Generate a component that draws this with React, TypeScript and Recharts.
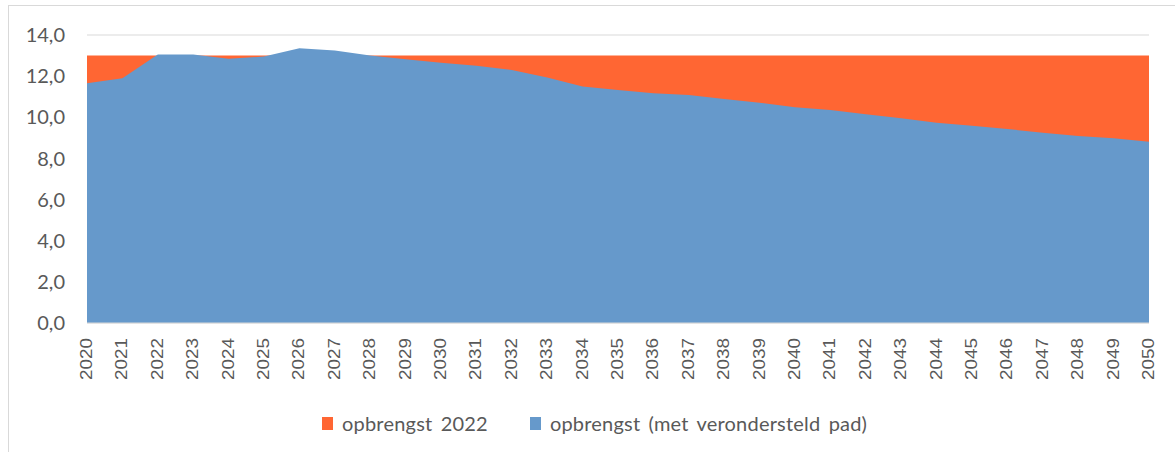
import React from "react";
import { AreaChart, Area, XAxis, YAxis, CartesianGrid, Legend } from "recharts";

const years = [
  "2020", "2021", "2022", "2023", "2024", "2025", "2026", "2027", "2028", "2029", "2030",
  "2031", "2032", "2033", "2034", "2035", "2036", "2037", "2038", "2039", "2040",
  "2041", "2042", "2043", "2044", "2045", "2046", "2047", "2048", "2049", "2050",
];

const opbrengst2022 = [
  13.0, 13.0, 13.0, 13.0, 13.0, 13.0, 13.0, 13.0, 13.0, 13.0, 13.0,
  13.0, 13.0, 13.0, 13.0, 13.0, 13.0, 13.0, 13.0, 13.0, 13.0,
  13.0, 13.0, 13.0, 13.0, 13.0, 13.0, 13.0, 13.0, 13.0, 13.0,
];

const opbrengstPad = [
  11.65, 11.9, 13.05, 13.05, 12.85, 12.95, 13.35, 13.25, 13.0, 12.82, 12.65,
  12.5, 12.3, 11.93, 11.5, 11.33, 11.17, 11.08, 10.89, 10.71, 10.49,
  10.35, 10.15, 9.95, 9.74, 9.59, 9.43, 9.25, 9.09, 8.98, 8.81,
];

const yTicks = [0, 2, 4, 6, 8, 10, 12, 14];

const seriesNames = ["opbrengst 2022", "opbrengst (met verondersteld pad)"];
const seriesColors = ["#FF6633", "#6699CB"];

const data = years.map((y, i) => ({
  year: y,
  o2022: opbrengst2022[i],
  pad: opbrengstPad[i],
}));

const XTick = (props: any) => {
  const { x, y, payload } = props;
  return (
    <text
      x={x + 5}
      y={y}
      transform={`rotate(-90, ${x + 5}, ${y})`}
      textAnchor="end"
      fill="#595959"
      fontFamily="'Liberation Sans', Arial, sans-serif"
      fontSize={16.5}
      textLength={42}
      lengthAdjust="spacingAndGlyphs"
    >
      {payload.value}
    </text>
  );
};

const LegendContent = () => (
  <div
    style={{
      display: "flex",
      alignItems: "center",
      fontFamily: "Lato, 'Open Sans', sans-serif",
      fontSize: 20,
      letterSpacing: 0.2,
      wordSpacing: 3,
      color: "#595959",
      whiteSpace: "nowrap",
    }}
  >
    {seriesNames.map((n, i) => (
      <div key={n} style={{ display: "flex", alignItems: "center", marginRight: i === 0 ? 42 : 0 }}>
        <span style={{ display: "inline-block", width: 11, height: 13, background: seriesColors[i], marginRight: 9 }} />
        <span>{n}</span>
      </div>
    ))}
  </div>
);

export default function App() {
  return (
    <div style={{ position: "absolute", left: 0, top: 0, width: 1175, height: 452, overflow: "hidden", background: "#fff" }}>
      <div
        style={{
          position: "absolute",
          left: 8,
          top: 5,
          width: 1200,
          height: 500,
          borderLeft: "1px solid #d9d9d9",
          borderTop: "1px solid #d9d9d9",
        }}
      />
      <div style={{ position: "absolute", left: 0, top: 0 }}>
        <AreaChart width={1175} height={452} data={data} margin={{ top: 35, right: 26, left: 0, bottom: 0 }}>
          <CartesianGrid vertical={false} stroke="#d9d9d9" />
          <XAxis
            dataKey="year"
            height={129}
            tickSize={0}
            tickMargin={15}
            axisLine={{ stroke: "#d9d9d9" }}
            tickLine={false}
            interval={0}
            tick={<XTick />}
          />
          <YAxis
            width={87}
            domain={[0, 14]}
            ticks={yTicks}
            tickSize={0}
            tickMargin={22}
            axisLine={false}
            tickLine={false}
            tickFormatter={(v: number) => v.toFixed(1).replace(".", ",")}
            tick={{ fill: "#595959", fontSize: 20, fontFamily: "Lato, 'Open Sans', sans-serif" }}
          />
          <Area
            type="linear"
            dataKey="o2022"
            name={seriesNames[0]}
            fill={seriesColors[0]}
            fillOpacity={1}
            stroke="none"
            isAnimationActive={false}
          />
          <Area
            type="linear"
            dataKey="pad"
            name={seriesNames[1]}
            fill={seriesColors[1]}
            fillOpacity={1}
            stroke="none"
            isAnimationActive={false}
          />
          <Legend
            layout="horizontal"
            verticalAlign="middle"
            align="center"
            content={<LegendContent />}
            wrapperStyle={{ left: 322, top: 411, width: "auto" }}
          />
        </AreaChart>
      </div>
    </div>
  );
}
